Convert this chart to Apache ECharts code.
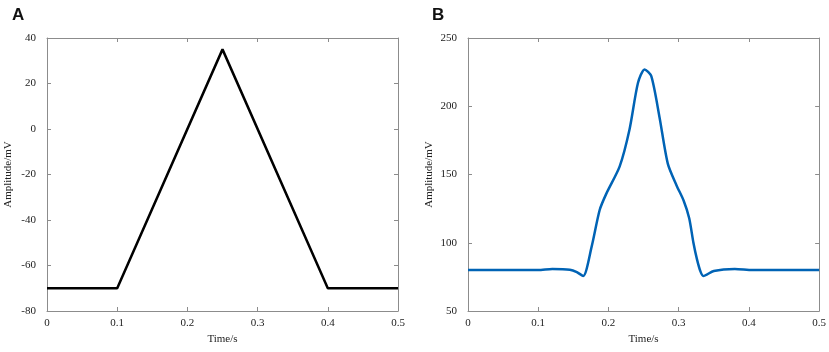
<!DOCTYPE html>
<html><head><meta charset="utf-8">
<script src="https://cdn.jsdelivr.net/npm/echarts@6/dist/echarts.min.js"></script>
<style>html,body{margin:0;padding:0;background:#fff}#c{width:829px;height:352px}</style>
</head><body><div id="c"></div>
<script>
// Panel A: triangular pulse
const timeA = [0, 0.1, 0.25, 0.4, 0.5];
const ampA = [-70, -70, 35, -70, -70];
// Panel B: smoothed pulse
const timeB = [0, 0.05, 0.1, 0.12, 0.145, 0.155, 0.164, 0.176, 0.1875, 0.197, 0.216, 0.230, 0.242, 0.2514, 0.261, 0.2727, 0.2845, 0.297, 0.307, 0.315, 0.321, 0.326, 0.331, 0.335, 0.35, 0.38, 0.405, 0.45, 0.5];
const ampB = [80, 80, 80, 80.8, 80.3, 78.5, 75.6, 97, 124, 136, 156, 183, 217, 227, 222, 192, 158, 142, 131, 118, 100, 88, 79, 75.6, 79.3, 80.8, 80, 80, 80];
const xTicks = [0, 0.1, 0.2, 0.3, 0.4, 0.5];
const yTicksA = [-80, -60, -40, -20, 0, 20, 40];
const yTicksB = [50, 100, 150, 200, 250];

const axisColor = '#8c8c8c';
const serif = '"Liberation Serif", "DejaVu Serif", serif';
function xAx(gi, show) {
  return {
    type: 'value', gridIndex: gi, min: 0, max: 0.5, interval: 0.1,
    position: show ? 'bottom' : 'top',
    name: show ? 'Time/s' : '', nameLocation: 'middle', nameGap: 14,
    nameTextStyle: {fontFamily: serif, fontSize: 11, color: '#222'},
    axisLine: {show: true, onZero: false, lineStyle: {color: axisColor, width: 1}},
    axisTick: {show: true, inside: true, length: 4, lineStyle: {color: axisColor}},
    axisLabel: {show: show, fontFamily: serif, fontSize: 11, color: '#222', margin: 7,
      formatter: v => (Math.round(v * 10) / 10).toString()},
    splitLine: {show: false}
  };
}
function yAx(gi, min, max, iv, show) {
  return {
    type: 'value', gridIndex: gi, min: min, max: max, interval: iv,
    position: show ? 'left' : 'right',
    name: show ? 'Amplitude/mV' : '', nameLocation: 'middle', nameGap: 33,
    nameTextStyle: {fontFamily: serif, fontSize: 11, color: '#222'},
    axisLine: {show: true, onZero: false, lineStyle: {color: axisColor, width: 1}},
    axisTick: {show: true, inside: true, length: 4, lineStyle: {color: axisColor}},
    axisLabel: {show: show, fontFamily: serif, fontSize: 11, color: '#222', margin: 11},
    splitLine: {show: false}
  };
}
const chart = echarts.init(document.getElementById('c'));
chart.setOption({
  animation: false,
  backgroundColor: '#fff',
  title: [
    {text: 'A', left: 7, top: 2, textStyle: {fontFamily: '"Liberation Sans", Arial, sans-serif', fontWeight: 'bold', fontSize: 17, color: '#111'}},
    {text: 'B', left: 427, top: 2, textStyle: {fontFamily: '"Liberation Sans", Arial, sans-serif', fontWeight: 'bold', fontSize: 17, color: '#111'}}
  ],
  grid: [
    {left: 47, top: 38, width: 351, height: 273},
    {left: 468, top: 38, width: 352, height: 273}
  ],
  xAxis: [xAx(0, true), xAx(0, false), xAx(1, true), xAx(1, false)],
  yAxis: [yAx(0, -80, 40, 20, true), yAx(0, -80, 40, 20, false), yAx(1, 50, 250, 50, true), yAx(1, 50, 250, 50, false)],
  series: [
    {type: 'line', xAxisIndex: 0, yAxisIndex: 0, data: timeA.map((t, i) => [t, ampA[i]]),
      showSymbol: false, lineStyle: {color: '#000', width: 2.5}},
    {type: 'line', xAxisIndex: 2, yAxisIndex: 2, data: timeB.map((t, i) => [t, ampB[i]]),
      showSymbol: false, smooth: 0.25, lineStyle: {color: '#0063b5', width: 2.5}}
  ]
});
</script></body></html>
